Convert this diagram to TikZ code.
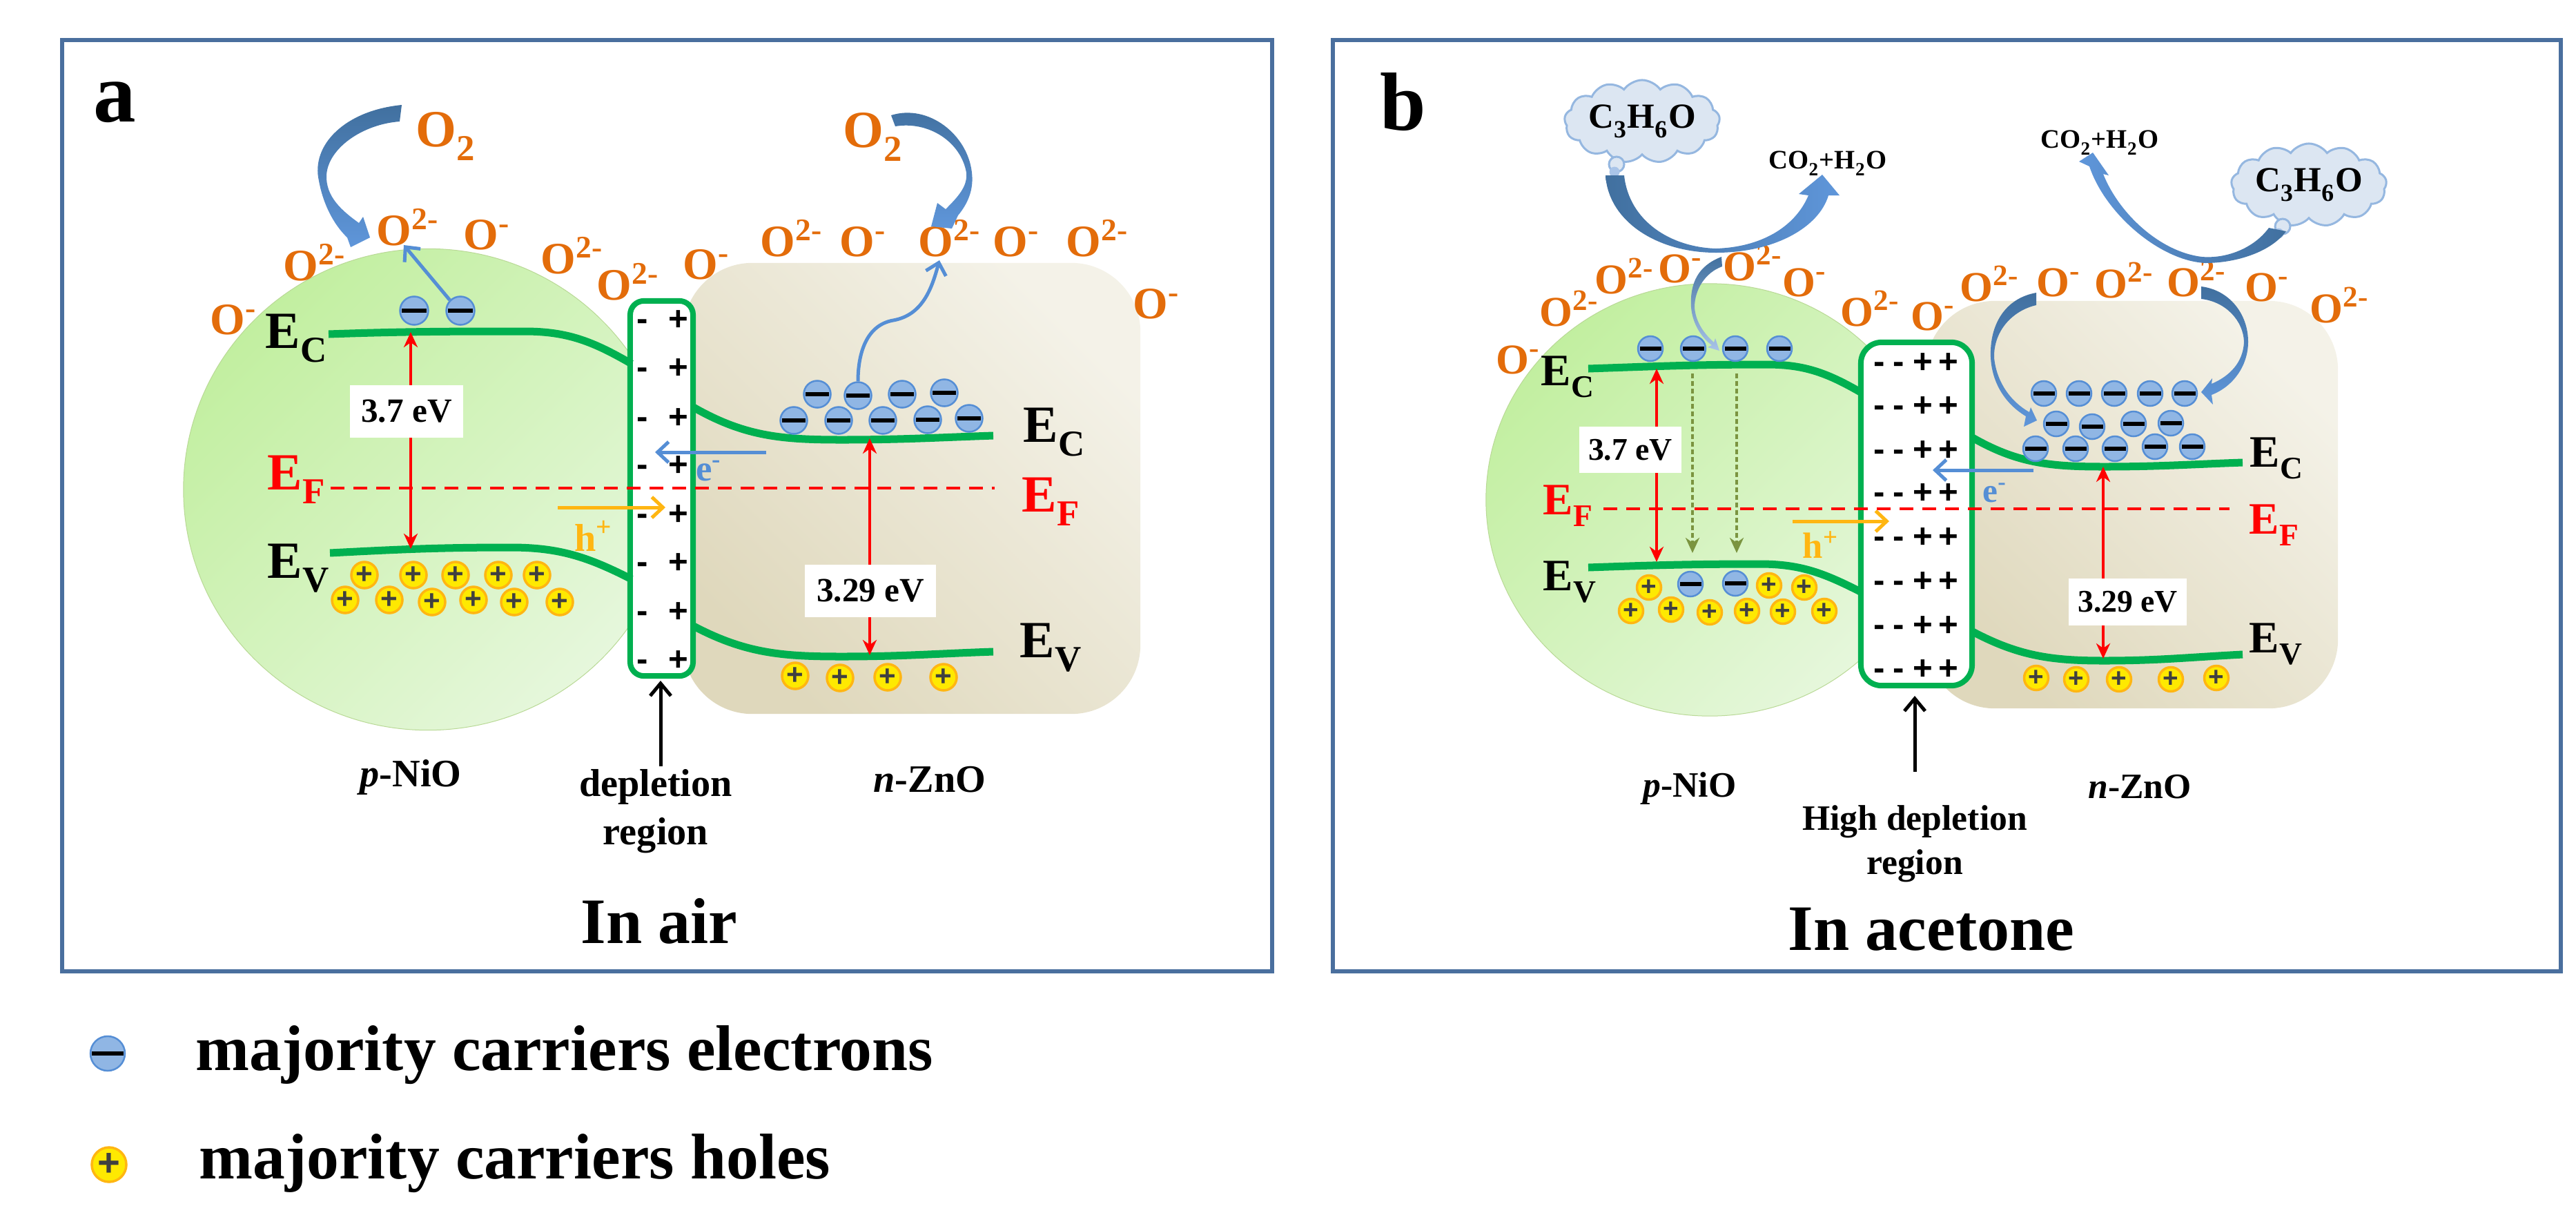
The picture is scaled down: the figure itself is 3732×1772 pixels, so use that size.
\documentclass[tikz,border=0pt]{standalone}
\usepackage{fontspec}
\setmainfont{Liberation Serif}
\newfontfamily\signfont{Liberation Sans}
\usetikzlibrary{shapes.geometric, shapes.symbols, arrows.meta}

\definecolor{framecol}{HTML}{4A6F9E}
\definecolor{ioncol}{HTML}{E36C0A}
\definecolor{bandcol}{HTML}{00B050}
\definecolor{bluecol}{HTML}{558ED5}
\definecolor{darkblue}{HTML}{41709F}
\definecolor{lightblue}{HTML}{5F96DA}
\definecolor{palecol}{HTML}{A9C4E8}
\definecolor{goldcol}{HTML}{FFB612}
\definecolor{deadcol}{HTML}{7B9440}
\definecolor{cloudcol}{HTML}{DCE6F2}
\definecolor{cloudline}{HTML}{95B7E0}
\definecolor{niotop}{HTML}{C2EFA0}
\definecolor{niobot}{HTML}{E6F7DC}
\definecolor{nioline}{HTML}{B9D996}
\definecolor{znotop}{HTML}{F4F2E8}
\definecolor{znobot}{HTML}{DFD8BC}
\newcommand{\fsz}[1]{\fontsize{#1}{#1}\selectfont\bfseries}
\newcommand{\lowsub}[1]{\raisebox{-0.13em}{\textsubscript{#1}}}

\begin{document}
\begin{tikzpicture}[
        x=0.01cm, y=-0.01cm,
        frame/.style={draw=framecol, line width=0.06cm, rectangle},
        nio/.style={ellipse, draw=nioline, line width=0.01cm, top color=niotop, bottom color=niobot, shading angle=45},
        zno/.style={rectangle, rounded corners=1cm, top color=znotop, bottom color=znobot, shading angle=-45},
        depl/.style={draw=bandcol, line width=0.08cm, fill=white, rectangle},
        band/.style={draw=bandcol, line width=0.11cm},
        fermi/.style={red, line width=0.035cm, dash pattern=on 0.2cm off 0.13cm},
        gap/.style={red, line width=0.04cm, {Stealth[length=0.22cm,width=0.2cm,inset=0.07cm]}-{Stealth[length=0.22cm,width=0.2cm,inset=0.07cm]}},
        gaptext/.style={fill=white, inner sep=0pt, font=\fsz{#1}},
        arrow/.style={line width=0.05cm, -{Straight Barb[length=0.16cm,width=0.3cm]}},
        blackarrow/.style={black, line width=0.05cm, -{Straight Barb[length=0.18cm,width=0.3cm]}},
        deadarrow/.style={deadcol, line width=0.035cm, dash pattern=on 0.07cm off 0.04cm, -{Stealth[length=0.22cm,width=0.2cm,inset=0.07cm,sep=0pt]}},
        elec/.style={circle, draw=bluecol, line width=0.025cm, fill=bluecol!65!white, inner sep=0pt, minimum size=#1,
            path picture={\fill[black] ([xshift=0.025cm,yshift=0.03cm]path picture bounding box.west) rectangle ([xshift=-0.025cm,yshift=-0.03cm]path picture bounding box.east);}},
        elec/.default=0.38cm,
        hole/.style={circle, draw=goldcol, line width=0.035cm, fill=yellow!92!orange, text=black!75, inner sep=0pt, minimum size=#1, font=\fsz{12}\signfont},
        hole/.default=0.38cm,
        charge/.style={anchor=base, inner sep=0pt, yshift=-0.125cm, font=\fsz{14}\signfont},
        ion/.style={anchor=base west, inner sep=0pt, text=ioncol, xshift=-0.23cm, yshift=-0.21cm, font=\fsz{#1}},
        edgelab/.style={anchor=base west, inner sep=0pt, font=\fsz{#1}},
        captn/.style={anchor=base, inner sep=0pt, font=\fsz{#1}},
        fuzz/.style={cloud, cloud puffs=13, cloud puff arc=110, aspect=2.3, draw=cloudline, line width=0.03cm, fill=cloudcol, inner sep=0pt, font=\fsz{14.5}},
        puff/.style={circle, draw=cloudline, fill=cloudcol, line width=0.03cm, inner sep=0pt, minimum size=#1},
        puffb/.style={circle, fill=palecol, inner sep=0pt, minimum size=#1}
    ]
    \useasboundingbox (0,0) rectangle (3732,1772);

    % Frames
    \node[frame, minimum width=17.51cm, minimum height=13.49cm] (a_frame) at (966.5,732.5) {};
    \node[frame, minimum width=17.78cm, minimum height=13.49cm] (b_frame) at (2820,732.5) {};

    % Panel a: grains and depletion box
    \node[zno, minimum width=6.62cm, minimum height=6.53cm] (a_zno) at (1321,707.5) {};
    \node[nio, minimum width=7.08cm, minimum height=6.97cm] (a_nio) at (620,709) {};
    \node[depl, rounded corners=0.2cm, minimum width=0.91cm, minimum height=5.43cm] (a_box) at (958.5,707.5) {};
    \foreach \y [count=\i] in {466,536,608,677,748,818,889,959} {
        \node[charge] (a_minus_\i) at (931,\y) {-};
        \node[charge] (a_plus_\i) at (983,\y) {+};
    }

    % Panel a: band edges
    \coordinate (a_ec_l) at (476,484);
    \coordinate (a_ec_lm) at (760,480);
    \coordinate (a_ec_le) at (915,527);
    \coordinate (a_ev_l) at (478,801);
    \coordinate (a_ev_lm) at (740,793);
    \coordinate (a_ev_le) at (915,839);
    \coordinate (a_ec_rs) at (1003,589);
    \coordinate (a_ec_rm) at (1219,637);
    \coordinate (a_ec_r) at (1439,631);
    \coordinate (a_ev_rs) at (1003,906);
    \coordinate (a_ev_rm) at (1219,951);
    \coordinate (a_ev_r) at (1439,944);
    \draw[band] (a_ec_l) to[out=2,in=180] (a_ec_lm) to[out=0,in=150] (a_ec_le);
    \draw[band] (a_ev_l) to[out=3,in=180] (a_ev_lm) to[out=0,in=153] (a_ev_le);
    \draw[band] (a_ec_rs) to[out=-30,in=180] (a_ec_rm) to[out=0,in=182] (a_ec_r);
    \draw[band] (a_ev_rs) to[out=-28,in=180] (a_ev_rm) to[out=0,in=182] (a_ev_r);

    % Panel a: levels
    \coordinate (a_ef_l) at (479,707);
    \coordinate (a_ef_r) at (1441,707);
    \draw[fermi] (a_ef_l) -- (a_ef_r);
    \node[edgelab=21.5] (a_ec_lab) at (384,504) {E\lowsub{C}};
    \node[edgelab=21.5, text=red] (a_ef_lab) at (387,709) {E\lowsub{F}};
    \node[edgelab=21.5] (a_ev_lab) at (387,837) {E\lowsub{V}};
    \node[edgelab=21.5] (a_ec_rlab) at (1482,640) {E\lowsub{C}};
    \node[edgelab=21.5, text=red] (a_ef_rlab) at (1480,741) {E\lowsub{F}};
    \node[edgelab=21.5] (a_ev_rlab) at (1477,952) {E\lowsub{V}};

    % Panel a: gaps
    \coordinate (a_gap_t) at (595,481);
    \coordinate (a_gap_b) at (595,795);
    \coordinate (a_gap_rt) at (1260,635);
    \coordinate (a_gap_rb) at (1260,949);
    \draw[gap] (a_gap_t) -- (a_gap_b);
    \draw[gap] (a_gap_rt) -- (a_gap_rb);
    \node[gaptext=14, minimum width=1.64cm, minimum height=0.76cm] (a_gap_lab) at (589,596) {3.7 eV};
    \node[gaptext=14, minimum width=1.89cm, minimum height=0.76cm] (a_gap_rlab) at (1261,856) {3.29 eV};

    % Panel a: carriers
    \foreach \x/\y [count=\i] in {600/450,667/450} \node[elec=0.41cm] (a_pel_\i) at (\x,\y) {};
    \foreach \x/\y [count=\i] in {1184/571,1243/573,1307/571,1368/569,1150/609,1215/609,1279/609,1344/608,1404/606} \node[elec=0.39cm] (a_nel_\i) at (\x,\y) {};
    \foreach \x/\y [count=\i] in {528/833,599/833,660/833,722/833,778/833,500/869,564/869,626/872,686/869,745/872,811/872} \node[hole] (a_phole_\i) at (\x,\y) {+};
    \foreach \x/\y [count=\i] in {1152/979,1217/982,1286/981,1367/981} \node[hole] (a_nhole_\i) at (\x,\y) {+};

    % Panel a: ions and oxygen
    \foreach \x/\y/\s [count=\i] in {568/334/2-,694/340/-,433/385/2-,327/463/-,806/375/2-,887/413/2-,1012/383/-,1124/350/2-,1239/350/-,1353/350/2-,1461/350/-,1567/350/2-,1664/440/-}
        \node[ion=18.5] (a_ion_\i) at (\x,\y) {O\textsuperscript{\s}};
    \node[edgelab=21.5, text=ioncol] (a_o2_l) at (602,212) {O\lowsub{2}};
    \node[edgelab=21.5, text=ioncol] (a_o2_r) at (1221,213) {O\lowsub{2}};
    \shade[top color=darkblue, bottom color=lightblue] (582,152) .. controls (500,160) and (450,210) .. (462,262) .. controls (468,295) and (483,325) .. (503,344) -- (508,358) -- (536,344) -- (526,314) -- (520,323) .. controls (495,305) and (472,285) .. (473,254) .. controls (475,215) and (525,180) .. (579,176) -- cycle;
    \shade[top color=darkblue, bottom color=lightblue] (1291,167) .. controls (1345,150) and (1402,195) .. (1408,250) .. controls (1411,275) and (1402,295) .. (1388,312) -- (1379,331) -- (1349,328) -- (1358,294) -- (1370,303) .. controls (1388,285) and (1402,270) .. (1400,250) .. controls (1392,205) and (1345,175) .. (1297,183) -- cycle;

    % Panel a: carrier arrows
    \coordinate (a_up_tip) at (585,355);
    \coordinate (a_wave_mid) at (1294,464);
    \coordinate (a_wave_tip) at (1361,377);
    \draw[arrow, bluecol] (a_pel_2.135) -- (a_up_tip);
    \draw[arrow, bluecol] (a_nel_2.north) to[out=90,in=190] (a_wave_mid) to[out=10,in=255] (a_wave_tip);
    \coordinate (a_e_s) at (1110,655);
    \coordinate (a_e_t) at (949,655);
    \coordinate (a_h_s) at (808,735);
    \coordinate (a_h_t) at (964,735);
    \draw[arrow, bluecol] (a_e_s) -- (a_e_t);
    \draw[arrow, goldcol] (a_h_s) -- (a_h_t);
    \node[font=\fsz{15}, text=bluecol, inner sep=0pt] (a_e_lab) at (1027,682) {e\textsuperscript{-}};
    \node[font=\fsz{16}, text=goldcol, inner sep=0pt] (a_h_lab) at (860,776) {h\textsuperscript{+}};

    % Panel a: captions
    \node[captn=16] (a_pnio) at (595,1139) {\textit{p}-NiO};
    \node[captn=16] (a_nzno) at (1347,1147) {\textit{n}-ZnO};
    \node[font=\fontsize{16}{19.9}\selectfont\bfseries, align=center, inner sep=0pt] (a_depl) at (950,1175) {depletion\\region};
    \coordinate (a_depl_s) at (957,1110);
    \coordinate (a_depl_t) at (957,986);
    \draw[blackarrow] (a_depl_s) -- (a_depl_t);
    \node[captn=26.7] (a_title) at (955,1366) {In air};
    \node[captn=35] (a_tag) at (166,176) {a};

    % Panel b: grains and depletion box
    \node[zno, minimum width=5.97cm, minimum height=5.9cm] (b_zno) at (3088.5,731) {};
    \node[nio, minimum width=6.48cm, minimum height=6.26cm] (b_nio) at (2477,724) {};
    \node[depl, rounded corners=0.3cm, minimum width=1.61cm, minimum height=4.97cm] (b_box) at (2776.5,744.5) {};
    \foreach \y [count=\i] in {528,591,655,717,781,845,909,972} {
        \node[charge] (b_minus_\i) at (2723,\y) {-};
        \node[charge] (b_minusb_\i) at (2751,\y) {-};
        \node[charge] (b_plus_\i) at (2786,\y) {+};
        \node[charge] (b_plusb_\i) at (2823,\y) {+};
    }

    % Panel b: band edges
    \coordinate (b_ec_l) at (2301,534);
    \coordinate (b_ec_lm) at (2560,528);
    \coordinate (b_ec_le) at (2697,569);
    \coordinate (b_ev_l) at (2301,822);
    \coordinate (b_ev_lm) at (2550,817);
    \coordinate (b_ev_le) at (2697,858);
    \coordinate (b_ec_rs) at (2856,633);
    \coordinate (b_ec_rm) at (3048,676);
    \coordinate (b_ec_r) at (3249,670);
    \coordinate (b_ev_rs) at (2856,914);
    \coordinate (b_ev_rm) at (3048,957);
    \coordinate (b_ev_r) at (3249,948);
    \draw[band] (b_ec_l) to[out=2,in=180] (b_ec_lm) to[out=0,in=150] (b_ec_le);
    \draw[band] (b_ev_l) to[out=2,in=180] (b_ev_lm) to[out=0,in=153] (b_ev_le);
    \draw[band] (b_ec_rs) to[out=-30,in=180] (b_ec_rm) to[out=0,in=182] (b_ec_r);
    \draw[band] (b_ev_rs) to[out=-28,in=180] (b_ev_rm) to[out=0,in=183] (b_ev_r);

    % Panel b: levels
    \coordinate (b_ef_l) at (2323,737);
    \coordinate (b_ef_r) at (3230,737);
    \draw[fermi] (b_ef_l) -- (b_ef_r);
    \node[edgelab=18.5] (b_ec_lab) at (2232,558) {E\lowsub{C}};
    \node[edgelab=18.5, text=red] (b_ef_lab) at (2235,745) {E\lowsub{F}};
    \node[edgelab=18.5] (b_ev_lab) at (2235,855) {E\lowsub{V}};
    \node[edgelab=18.5] (b_ec_rlab) at (3259,676) {E\lowsub{C}};
    \node[edgelab=18.5, text=red] (b_ef_rlab) at (3258,773) {E\lowsub{F}};
    \node[edgelab=18.5] (b_ev_rlab) at (3258,945) {E\lowsub{V}};

    % Panel b: gaps
    \coordinate (b_gap_t) at (2400,534);
    \coordinate (b_gap_b) at (2400,814);
    \coordinate (b_gap_rt) at (3047,676);
    \coordinate (b_gap_rb) at (3047,954);
    \draw[gap] (b_gap_t) -- (b_gap_b);
    \draw[gap] (b_gap_rt) -- (b_gap_rb);
    \node[gaptext=13, minimum width=1.48cm, minimum height=0.67cm] (b_gap_lab) at (2362,651.5) {3.7 eV};
    \node[gaptext=13, minimum width=1.71cm, minimum height=0.68cm] (b_gap_rlab) at (3082.5,872) {3.29 eV};

    % Panel b: carriers
    \foreach \x/\y [count=\i] in {2391/505,2453/505,2514/505,2578/505,2449/846,2514/845} \node[elec=0.36cm] (b_pel_\i) at (\x,\y) {};
    \foreach \x/\y [count=\i] in {2961/570,3012/570,3063/570,3115/570,3165/570,2979/614,3031/618,3091/614,3145/613,2949/650,3007/650,3064/650,3122/647,3176/647} \node[elec=0.36cm] (b_nel_\i) at (\x,\y) {};
    \foreach \x/\y [count=\i] in {2389/851,2563/848,2614/851,2363/885,2421/883,2477/887,2531/885,2583/886,2643/885} \node[hole=0.35cm, font=\fsz{11}\signfont] (b_phole_\i) at (\x,\y) {+};
    \foreach \x/\y [count=\i] in {2950/982,3008/984,3070/984,3145/984,3211/982} \node[hole=0.35cm, font=\fsz{11}\signfont] (b_nhole_\i) at (\x,\y) {+};

    % Panel b: ions
    \foreach \x/\y/\s [count=\i] in {2253/451/2-,2333/404/2-,2425/388/-,2519/385/2-,2605/408/-,2190/520/-,2689/451/2-,2791/457/-,2862/415/2-,2973/408/-,3057/410/2-,3162/408/2-,3275/415/-,3369/446/2-}
        \node[ion=17.5] (b_ion_\i) at (\x,\y) {O\textsuperscript{\s}};

    % Panel b: acetone clouds and products
    \node[fuzz, minimum width=2.18cm, minimum height=1.2cm] (b_cloud_l) at (2379,176) {C\lowsub{3}H\lowsub{6}O\hspace{0.28cm}};
    \node[puff=0.22cm] (b_puff_l) at (2342,238) {};
    \node[puffb=0.15cm] (b_puffb_l) at (2339,249) {};
    \node[fuzz, minimum width=2.2cm, minimum height=1.19cm] (b_cloud_r) at (3345,268) {C\lowsub{3}H\lowsub{6}O};
    \node[puff=0.22cm] (b_puff_r) at (3307,328) {};
    \node[puffb=0.15cm] (b_puffb_r) at (3301,338) {};
    \node[captn=11] (b_prod_l) at (2648,244) {CO\lowsub{2}+H\lowsub{2}O};
    \node[captn=11] (b_prod_r) at (3042,214) {CO\lowsub{2}+H\lowsub{2}O};

    % Panel b: reaction arrows
    \shade[left color=darkblue, right color=lightblue] (2326,254) .. controls (2330,320) and (2400,366) .. (2486,366) .. controls (2570,366) and (2635,330) .. (2649,283) -- (2665,283) -- (2640,253) -- (2606,281) -- (2620,283) .. controls (2600,330) and (2550,358) .. (2486,360) .. controls (2420,358) and (2360,320) .. (2353,254) -- cycle;
    \shade[left color=lightblue, right color=darkblue] (3312,335) .. controls (3290,365) and (3240,381) .. (3195,381) .. controls (3130,378) and (3050,310) .. (3027,241) -- (3012,234) -- (3032,221) -- (3055,254) -- (3047,252) .. controls (3070,310) and (3130,365) .. (3190,372) .. controls (3225,375) and (3265,360) .. (3287,330) -- cycle;
    \shade[top color=darkblue, bottom color=palecol] (2494,372) .. controls (2460,385) and (2448,410) .. (2450,445) .. controls (2452,470) and (2466,490) .. (2480,500) -- (2474,503) -- (2491,508) -- (2485,490) -- (2483,496) .. controls (2465,480) and (2456,462) .. (2455,445) .. controls (2455,420) and (2470,395) .. (2495,386) -- cycle;
    \shade[top color=darkblue, bottom color=lightblue] (2950,424) .. controls (2905,432) and (2882,470) .. (2884,518) .. controls (2886,555) and (2905,585) .. (2935,603) -- (2932,618) -- (2951,609) -- (2942,590) -- (2940,597) .. controls (2910,580) and (2892,550) .. (2889,518) .. controls (2888,480) and (2915,450) .. (2950,442) -- cycle;
    \shade[top color=darkblue, bottom color=lightblue] (3189,415) .. controls (3230,420) and (3257,455) .. (3257,495) .. controls (3257,530) and (3235,560) .. (3204,572) -- (3206,586) -- (3189,568) -- (3205,548) -- (3204,556) .. controls (3230,545) and (3250,525) .. (3251,495) .. controls (3250,465) and (3225,437) .. (3189,433) -- cycle;

    % Panel b: carrier arrows
    \coordinate (b_dead_as) at (2452,541);
    \coordinate (b_dead_at) at (2452,801);
    \coordinate (b_dead_bs) at (2516,541);
    \coordinate (b_dead_bt) at (2516,801);
    \draw[deadarrow] (b_dead_as) -- (b_dead_at);
    \draw[deadarrow] (b_dead_bs) -- (b_dead_bt);
    \coordinate (b_e_s) at (2946,681);
    \coordinate (b_e_t) at (2800,681);
    \coordinate (b_h_s) at (2597,755);
    \coordinate (b_h_t) at (2737,755);
    \draw[arrow, bluecol] (b_e_s) -- (b_e_t);
    \draw[arrow, goldcol] (b_h_s) -- (b_h_t);
    \node[font=\fsz{14}, text=bluecol, inner sep=0pt] (b_e_lab) at (2890,714) {e\textsuperscript{-}};
    \node[font=\fsz{15}, text=goldcol, inner sep=0pt] (b_h_lab) at (2638,789) {h\textsuperscript{+}};

    % Panel b: captions
    \node[captn=14.7] (b_pnio) at (2448,1154) {\textit{p}-NiO};
    \node[captn=14.7] (b_nzno) at (3100,1156) {\textit{n}-ZnO};
    \node[font=\fontsize{14.7}{18.2}\selectfont\bfseries, align=center, inner sep=0pt] (b_depl) at (2774,1222) {High depletion\\region};
    \coordinate (b_depl_s) at (2774,1118);
    \coordinate (b_depl_t) at (2774,1008);
    \draw[blackarrow] (b_depl_s) -- (b_depl_t);
    \node[captn=26.7] (b_title) at (2798,1376) {In acetone};
    \node[captn=34] (b_tag) at (2033,188) {b};

    % Legend
    \node[elec=0.5cm] (key_elec) at (156,1526) {};
    \node[hole=0.5cm, font=\fsz{16}\signfont] (key_hole) at (158,1687) {+};
    \node[edgelab=26.6] (key_elec_lab) at (283,1550) {majority carriers electrons};
    \node[edgelab=26.6] (key_hole_lab) at (288,1707) {majority carriers holes};
\end{tikzpicture}
\end{document}
